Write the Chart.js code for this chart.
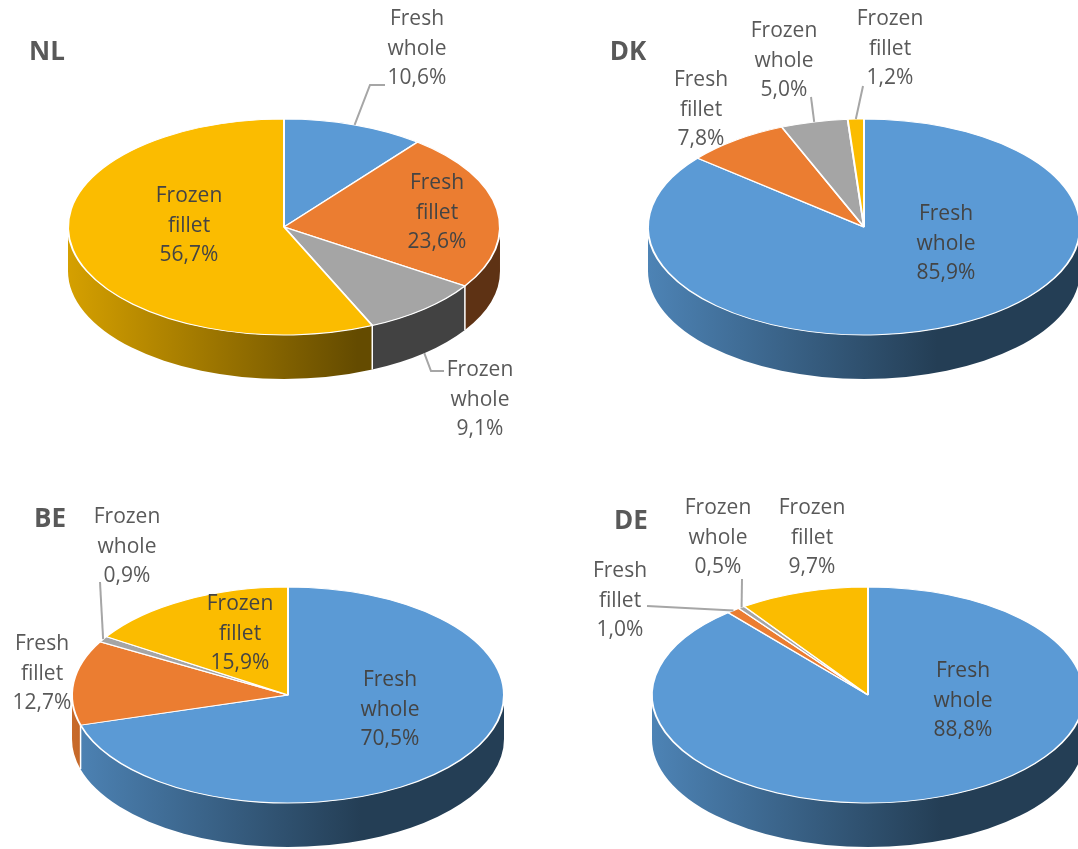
<!DOCTYPE html>
<html>
<head>
<meta charset="utf-8">
<script src="https://cdn.jsdelivr.net/npm/chart.js@4"></script>
<style>
html,body{margin:0;padding:0;background:#fff;width:1078px;height:849px;overflow:hidden}
canvas{position:absolute;filter:blur(0.45px)}
</style>
</head>
<body>
<canvas id="c0" style="left:0;top:0"></canvas>
<canvas id="c1" style="left:580px;top:0"></canvas>
<canvas id="c2" style="left:4px;top:468px"></canvas>
<canvas id="c3" style="left:584px;top:468px"></canvas>
<script>
const categories = ['Fresh whole', 'Fresh fillet', 'Frozen whole', 'Frozen fillet'];
const countries = ['NL', 'DK', 'BE', 'DE'];
const valuesNL = [10.6, 23.6, 9.1, 56.7];
const valuesDK = [85.9, 7.8, 5.0, 1.2];
const valuesBE = [70.5, 12.7, 0.9, 15.9];
const valuesDE = [88.8, 1.0, 0.5, 9.7];
const colors = ['#5b9ad5', '#eb7d31', '#a5a5a5', '#fbbc00'];

// layout (page pixels)
const origins = [[0, 0], [580, 0], [4, 468], [584, 468]];
const titlePos = [[47, 53], [628, 53], [50, 520], [631, 522]];
const labelPos = [
  [[417, 49], [437, 213], [480, 400], [189, 226]],
  [[946, 244], [701, 110], [784, 61], [890, 49]],
  [[390, 710], [42, 674], [127, 547], [240, 634]],
  [[963, 701], [620, 601], [718, 538], [812, 538]]
];
// leader waypoints per chart: slice index, wall flag, then elbow points
const leaders = [
  [{i: 0, wall: false, pts: [[370, 85], [385, 85]]}, {i: 2, wall: true, pts: [[431, 371], [444, 371]]}],
  [{i: 2, wall: false, pts: [[811, 97]]}, {i: 3, wall: false, pts: [[863, 86]]}],
  [{i: 2, wall: false, pts: [[100, 582]]}],
  [{i: 1, wall: false, pts: [[647, 606]]}, {i: 2, wall: false, pts: [[742, 579]]}]
];
const SQUASH = 0.5, DEPTH = 44;
const FONT = '21px "Open Sans"';
const TITLE_FONT = 'bold 26px "Open Sans"';
const LINE_H = 29.5;

function shade(hex, f) {
  const n = parseInt(hex.slice(1), 16);
  return `rgb(${Math.round((n >> 16 & 255) * f)},${Math.round((n >> 8 & 255) * f)},${Math.round((n & 255) * f)})`;
}

const pie3d = {
  id: 'pie3d',
  beforeDatasetDraw(chart, args) {
    const ctx = chart.ctx;
    const arcs = args.meta.data;
    const cx = arcs[0].x, cy = arcs[0].y, r = arcs[0].outerRadius;
    // side walls
    arcs.forEach((el, i) => {
      const a1 = Math.max(el.startAngle, 0), a2 = Math.min(el.endAngle, Math.PI);
      if (a1 >= a2) return;
      const g = ctx.createLinearGradient(cx - r, 0, cx + r, 0);
      g.addColorStop(0, shade(colors[i], 0.85));
      g.addColorStop(0.67, shade(colors[i], 0.4));
      g.addColorStop(1, shade(colors[i], 0.4));
      ctx.beginPath();
      ctx.ellipse(cx, cy, r, r * SQUASH, 0, a1, a2);
      ctx.ellipse(cx, cy + DEPTH, r, r * SQUASH, 0, a2, a1, true);
      ctx.closePath();
      ctx.fillStyle = g;
      ctx.fill();
    });
    // white edges between wall pieces
    ctx.strokeStyle = '#fff';
    ctx.lineWidth = 1.5;
    arcs.forEach(el => {
      const a = el.endAngle;
      if (a > 0 && a < Math.PI) {
        const x = cx + r * Math.cos(a), y = cy + r * SQUASH * Math.sin(a);
        ctx.beginPath();
        ctx.moveTo(x, y);
        ctx.lineTo(x, y + DEPTH);
        ctx.stroke();
      }
    });
    ctx.save();
    ctx.translate(0, cy);
    ctx.scale(1, SQUASH);
    ctx.translate(0, -cy);
  },
  afterDatasetDraw(chart) {
    chart.ctx.restore();
  },
  afterDraw(chart, args, opts) {
    const ctx = chart.ctx;
    const k = opts.index;
    const [ox, oy] = origins[k];
    const arcs = chart.getDatasetMeta(0).data;
    const cx = arcs[0].x, cy = arcs[0].y, r = arcs[0].outerRadius;
    // leader lines
    ctx.strokeStyle = '#a6a6a6';
    ctx.lineWidth = 2;
    ctx.lineJoin = 'miter';
    leaders[k].forEach(l => {
      const el = arcs[l.i];
      const mid = (el.startAngle + el.endAngle) / 2;
      const sx = el.x + el.outerRadius * Math.cos(mid);
      const sy = el.y + el.outerRadius * SQUASH * Math.sin(mid) + (l.wall ? DEPTH : 0);
      ctx.beginPath();
      ctx.moveTo(sx, sy);
      l.pts.forEach(p => ctx.lineTo(p[0] - ox, p[1] - oy));
      ctx.stroke();
    });
    // title
    ctx.textAlign = 'center';
    ctx.textBaseline = 'middle';
    ctx.font = TITLE_FONT;
    ctx.fillStyle = '#595959';
    ctx.fillText(countries[k], titlePos[k][0] - ox, titlePos[k][1] - oy);
    // data labels
    ctx.font = FONT;
    const vals = chart.data.datasets[0].data;
    categories.forEach((cat, i) => {
      const [px, py] = labelPos[k][i];
      const dx = (px - ox - cx) / r, dy = (py - oy - cy) / (r * SQUASH);
      ctx.fillStyle = dx * dx + dy * dy < 1 ? '#444444' : '#595959';
      const words = cat.split(' ');
      const lines = [words[0], words[1], vals[i].toFixed(1).replace('.', ',') + '%'];
      lines.forEach((t, j) => ctx.fillText(t, px - ox, py - oy + (j - 1) * LINE_H));
    });
  }
};

[valuesNL, valuesDK, valuesBE, valuesDE].forEach((vals, k) => {
  const cv = document.getElementById('c' + k);
  cv.width = 540;
  cv.height = 445;
  new Chart(cv, {
    type: 'pie',
    data: {
      labels: categories,
      datasets: [{data: vals, backgroundColor: colors, borderColor: '#fff', borderWidth: 2}]
    },
    options: {
      responsive: false,
      animation: false,
      events: [],
      layout: {padding: {left: 67, right: 39, top: 10, bottom: 1}},
      plugins: {
        legend: {display: false},
        tooltip: {enabled: false},
        title: {display: false},
        pie3d: {index: k}
      }
    },
    plugins: [pie3d]
  });
});
</script>
</body>
</html>
